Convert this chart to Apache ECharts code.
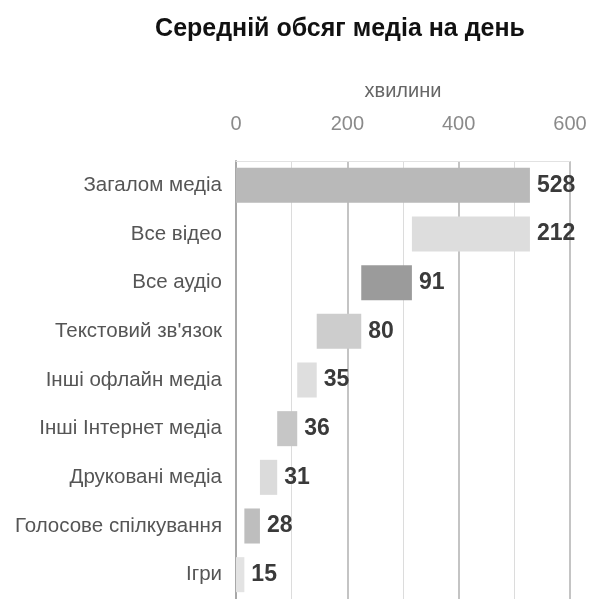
<!DOCTYPE html>
<html>
<head>
<meta charset="utf-8">
<script src="https://cdn.jsdelivr.net/npm/echarts@6/dist/echarts.min.js"></script>
<style>html,body{margin:0;padding:0;background:#fff;}#c{width:591px;height:599px;}</style>
</head>
<body>
<div id="c"></div>
<script>
const categories = ['Загалом медіа','Все відео','Все аудіо','Текстовий зв\'язок','Інші офлайн медіа','Інші Інтернет медіа','Друковані медіа','Голосове спілкування','Ігри'];
const values = [528, 212, 91, 80, 35, 36, 31, 28, 15];
const axisTicks = [0, 200, 400, 600];

const barColors = ['#b9b9b9','#dddddd','#9b9b9b','#cdcdcd','#dedede','#c6c6c6','#dbdbdb','#bebebe','#e3e3e3'];

// waterfall: first bar is the total from 0, the rest stack downward from the total
const bases = [];
let remaining = values[0];
values.forEach((v, i) => {
  if (i === 0) { bases.push(0); }
  else { remaining -= v; bases.push(remaining); }
});

const FONT = 'Liberation Sans, Arial, sans-serif';
const chart = echarts.init(document.getElementById('c'), null, {renderer: 'canvas'});
chart.setOption({
  animation: false,
  backgroundColor: '#fff',
  title: {
    text: 'Середній обсяг медіа на день',
    left: 335, top: 12, textAlign: 'center',
    textStyle: {fontFamily: FONT, fontSize: 25, fontWeight: 'bold', color: '#111'}
  },
  grid: {left: 236, width: 334, top: 161, height: 447, containLabel: false},
  xAxis: {
    type: 'value', position: 'top',
    min: axisTicks[0], max: axisTicks[axisTicks.length - 1], interval: 200,
    name: 'хвилини', nameLocation: 'middle', nameGap: 60,
    nameTextStyle: {fontFamily: FONT, fontSize: 20, color: '#666'},
    axisLine: {show: true, lineStyle: {color: '#e2e2e2', width: 1}},
    axisTick: {show: false},
    axisLabel: {margin: 27, fontFamily: FONT, fontSize: 20, color: '#8a8a8a'},
    splitLine: {show: true, lineStyle: {color: '#c4c4c4', width: 2}},
    minorTick: {show: false, splitNumber: 2},
    minorSplitLine: {show: true, lineStyle: {color: '#dcdcdc', width: 1}}
  },
  yAxis: {
    type: 'category', inverse: true, data: categories,
    axisLine: {show: true, lineStyle: {color: '#a8a8a8', width: 2}},
    axisTick: {show: false},
    axisLabel: {margin: 14, fontFamily: FONT, fontSize: 20.5, color: '#555'}
  },
  series: [
    {
      type: 'bar', stack: 'w', data: bases, barWidth: '72%',
      itemStyle: {color: 'transparent'}, silent: true
    },
    {
      type: 'bar', stack: 'w', barWidth: '72%',
      data: values.map((v, i) => ({value: v, itemStyle: {color: barColors[i]}})),
      label: {
        show: true, position: 'right', distance: 7,
        fontFamily: FONT, fontSize: 23, fontWeight: 'bold', color: '#3a3a3a'
      }
    }
  ]
});
</script>
</body>
</html>
